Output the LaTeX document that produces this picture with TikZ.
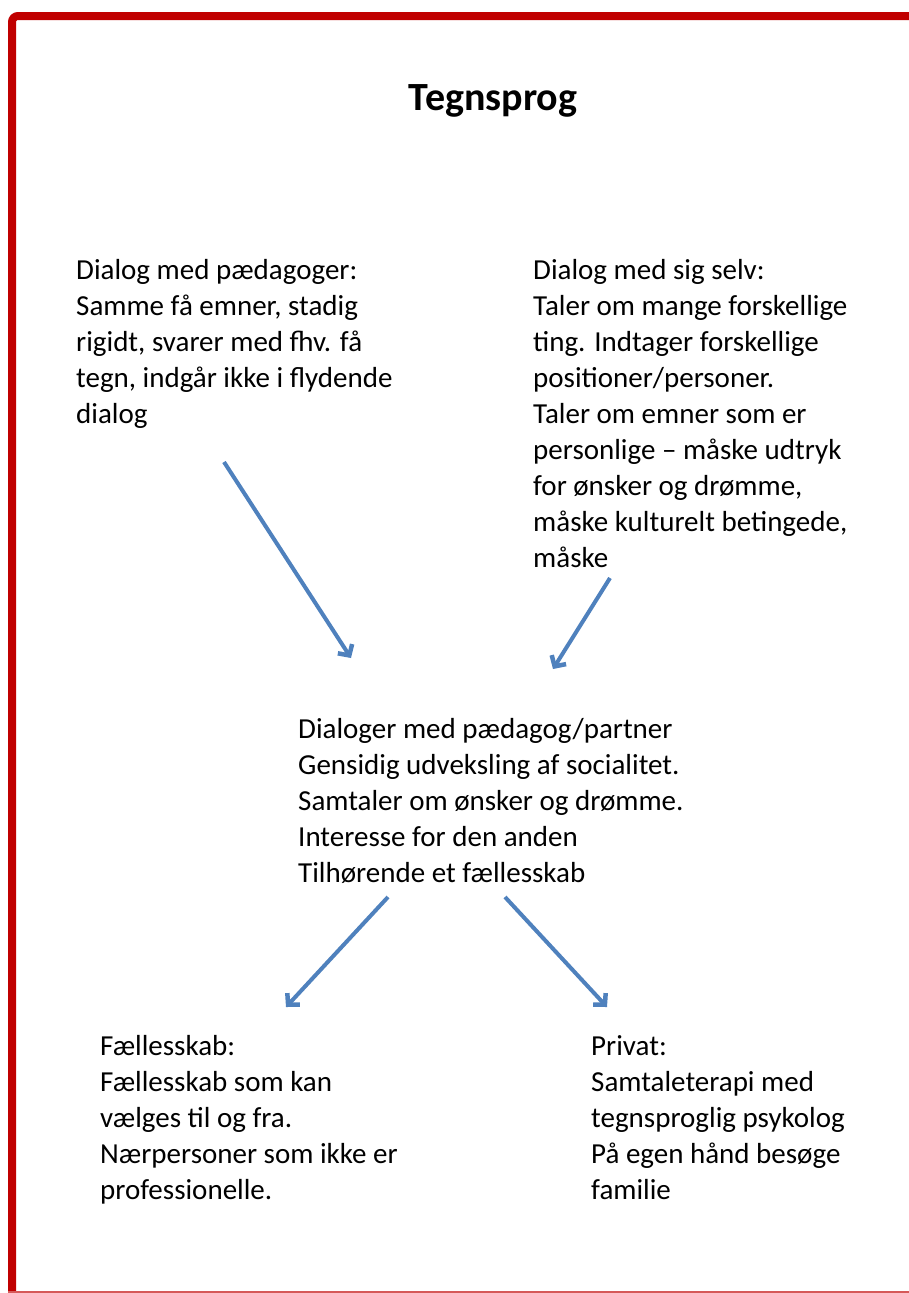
\documentclass[tikz,border=0pt]{standalone}
\usepackage{fontspec}
\setmainfont{Carlito}
\usetikzlibrary{arrows.meta}
\definecolor{rammerod}{HTML}{C00000}
\definecolor{pilblaa}{HTML}{4F81BD}
\tikzset{
    tekst/.style={anchor=north west, align=left, inner sep=0pt, font=\fontsize{29}{36}\selectfont},
    pil/.style={pilblaa, line width=4pt, -{Straight Barb[length=8pt,width=17pt,line width=4.5pt]}}
}
\begin{document}
\begin{tikzpicture}[x=1pt, y=-1pt]
        \useasboundingbox (0, 0) rectangle (909, 1293);
        % ramme
        \draw[rammerod, line width=8pt, rounded corners=6pt] (12, 1300) -- (12, 16) -- (920, 16);
        \draw[rammerod!65, line width=1.5pt] (8, 1292) -- (920, 1292);
        % titel
        \node (titel) at (493, 101) [font=\fontsize{40}{44}\selectfont\bfseries]{Tegnsprog};
        % tekstfelter
        \node (paedagoger) at (76, 259) [tekst]{Dialog med pædagoger:\\Samme få emner, stadig\\rigidt, svarer med fhv. få\\tegn, indgår ikke i flydende\\dialog};
        \node (selv) at (533, 259) [tekst]{Dialog med sig selv:\\Taler om mange forskellige\\ting. Indtager forskellige\\positioner/personer.\\Taler om emner som er\\personlige -- måske udtryk\\for ønsker og drømme,\\måske kulturelt betingede,\\måske};
        \node (partner) at (298, 718) [tekst]{Dialoger med pædagog/partner\\Gensidig udveksling af socialitet.\\Samtaler om ønsker og drømme.\\Interesse for den anden\\Tilhørende et fællesskab};
        \node (faelles) at (100, 1035) [tekst]{Fællesskab:\\Fællesskab som kan\\vælges til og fra.\\Nærpersoner som ikke er\\professionelle.};
        \node (privat) at (591, 1035) [tekst]{Privat:\\Samtaleterapi med\\tegnsproglig psykolog\\På egen hånd besøge\\familie};
        % pile
        \coordinate (p1) at (224, 462);
        \coordinate (p2) at (351, 658);
        \coordinate (s1) at (610, 578);
        \coordinate (s2) at (553, 669);
        \coordinate (f1) at (388, 897);
        \coordinate (f2) at (286, 1007);
        \coordinate (v1) at (505, 897);
        \coordinate (v2) at (607, 1007);
        \draw[pil] (p1) -- (p2);
        \draw[pil] (s1) -- (s2);
        \draw[pil] (f1) -- (f2);
        \draw[pil] (v1) -- (v2);
    \end{tikzpicture}
\end{document}
